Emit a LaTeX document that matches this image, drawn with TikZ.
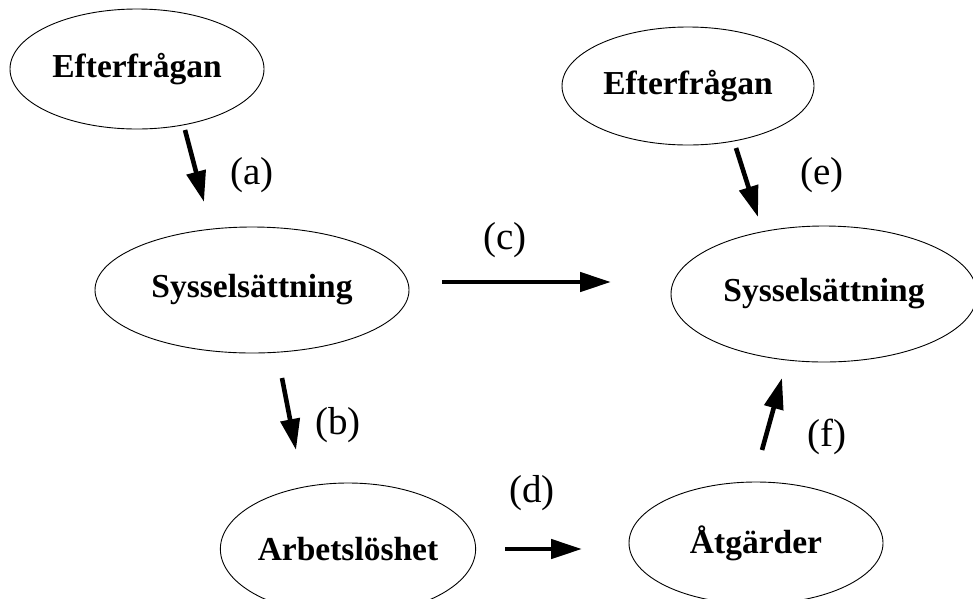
\documentclass[tikz,border=0pt]{standalone}
\usepackage{fontspec}
\setmainfont{Liberation Serif}
\usetikzlibrary{shapes.geometric,arrows.meta}
\begin{document}
\begin{tikzpicture}[x=1pt,y=-1pt,
  oval/.style={ellipse,draw,line width=0.9pt,inner sep=0pt,
    font=\fontsize{33.5}{40}\selectfont\bfseries},
  arr/.style={line width=4.6pt,-{Triangle[length=31pt,width=19pt]}},
  lab/.style={font=\fontsize{39}{46}\selectfont,inner sep=0pt}]
\useasboundingbox (0,0) rectangle (973,598);
\clip (0,0) rectangle (973,598);
% nodes
\node[oval,minimum width=254pt,minimum height=120pt] (e1) at (137,69) {Efterfrågan};
\node[oval,minimum width=314pt,minimum height=126pt] (s1) at (252,290) {Sysselsättning};
\node[oval,minimum width=254pt,minimum height=132pt] (ar) at (348,549) {Arbetslöshet};
\node[oval,minimum width=252pt,minimum height=118pt] (e2) at (688,86) {Efterfrågan};
\node[oval,minimum width=306pt,minimum height=136pt] (s2) at (824,294) {Sysselsättning};
\node[oval,minimum width=254pt,minimum height=122pt] (at) at (756,543) {Åtgärder};
% arrow end points
\coordinate (a1) at (185,130); \coordinate (a2) at (204,202);
\coordinate (b1) at (282,378); \coordinate (b2) at (296,450);
\coordinate (c1) at (442,282); \coordinate (c2) at (611,282);
\coordinate (d1) at (505,549); \coordinate (d2) at (582,549);
\coordinate (f1) at (736,148); \coordinate (f2) at (758,217);
\coordinate (g1) at (762,450); \coordinate (g2) at (782,378);
\draw[arr] (a1) -- (a2);
\draw[arr] (b1) -- (b2);
\draw[arr] (c1) -- (c2);
\draw[arr] (d1) -- (d2);
\draw[arr] (f1) -- (f2);
\draw[arr] (g1) -- (g2);
% labels
\node[lab] (la) at (252,175) {(a)};
\node[lab] (lb) at (338,425) {(b)};
\node[lab] (lc) at (505,240) {(c)};
\node[lab] (ld) at (532,493) {(d)};
\node[lab] (le) at (822,175) {(e)};
\node[lab] (lf) at (827,437) {(f)};
\end{tikzpicture}
\end{document}
